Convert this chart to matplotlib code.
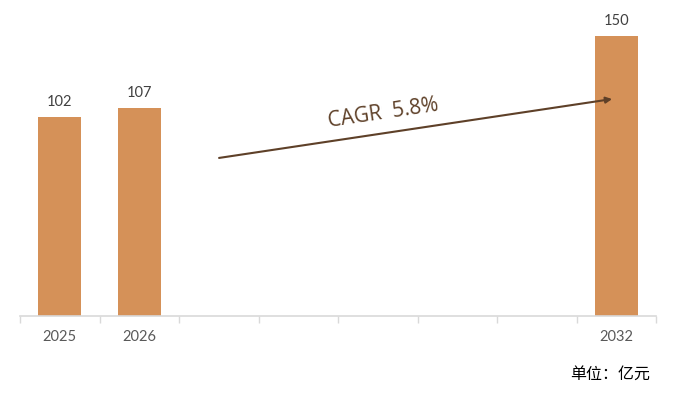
import numpy as np
import matplotlib
matplotlib.use("Agg")
import matplotlib.pyplot as plt

plt.rcParams['font.family'] = ['Lato', 'DejaVu Sans']

# ---- data ----
years = ['2025', '2026', '2027', '2028', '2029', '2030', '2031', '2032']
tick_labels = ['2025', '2026', '', '', '', '', '', '2032']
values = [102, 107, np.nan, np.nan, np.nan, np.nan, np.nan, 150]
cagr_text = 'CAGR  5.8%'
unit_text = '单位：亿元'

# ---- style ----
bar_color = '#D59158'
arrow_color = '#5E4028'
axis_floor = -16  # value axis starts below zero in the reference

fig = plt.figure(figsize=(6.75, 3.95), dpi=100)
ax = fig.add_axes([20 / 675, 79 / 395, 636 / 675, 296 / 395])

x = np.arange(len(years))
vals = np.array(values, dtype=float)
heights = vals - axis_floor
ax.bar(x, heights, bottom=axis_floor, width=0.54, color=bar_color, zorder=2)

for xi, v in zip(x, vals):
    if not np.isnan(v):
        ax.annotate(f'{v:g}', (xi, v), xytext=(0, 11), textcoords='offset points',
                    ha='center', va='center', fontsize=10.5, color='#404040')

ax.set_xlim(-0.5, len(years) - 0.5)
ax.set_ylim(axis_floor, 159.4)

ax.set_xticks(x)
ax.set_xticklabels(tick_labels, fontsize=10.5, color='#595959')
ax.tick_params(axis='x', which='major', length=0, pad=10)
ax.set_xticks(np.arange(len(years) + 1) - 0.5, minor=True)
ax.tick_params(axis='x', which='minor', length=5, color='#D9D9D9', width=1)
ax.set_yticks([])

for s in ['top', 'right', 'left']:
    ax.spines[s].set_visible(False)
ax.spines['bottom'].set_color('#D9D9D9')
ax.spines['bottom'].set_linewidth(1.2)

# CAGR arrow
ax.annotate('', xy=(0.931, 0.733), xytext=(0.313, 0.534), xycoords='axes fraction',
            arrowprops=dict(arrowstyle='-|>', color=arrow_color, lw=1.5,
                            mutation_scale=9, shrinkA=0, shrinkB=0))
ax.text(0.571, 0.684, cagr_text, transform=ax.transAxes, rotation=8.5,
        rotation_mode='anchor', ha='center', va='center', fontsize=15,
        color=arrow_color, family=['Open Sans', 'DejaVu Sans'])

fig.text(650 / 675, 1 - 374 / 395, unit_text, ha='right', va='center', fontsize=11.5,
         color='#000000', family=['Noto Sans CJK SC', 'DejaVu Sans'])

fig.savefig('out.png', dpi=100)
